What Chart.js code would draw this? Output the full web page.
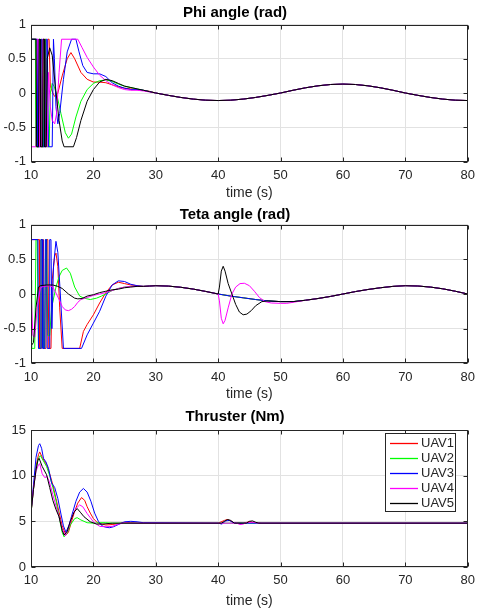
<!DOCTYPE html>
<html>
<head>
<meta charset="utf-8">
<script src="https://cdn.jsdelivr.net/npm/chart.js@4"></script>
<style>
    body { margin: 0; background: #fff; }
    #wrap { position: relative; width: 481px; height: 614px; }
    canvas { position: absolute; left: 0; }
</style>
</head>
<body>
<div id="wrap">
    <canvas id="phiChart" width="481" height="202" style="top:0px"></canvas>
    <canvas id="tetaChart" width="481" height="202" style="top:201px"></canvas>
    <canvas id="thrustChart" width="481" height="211" style="top:403px"></canvas>
</div>
<script>
// Подписи и цвета
const uavNames = ['UAV1', 'UAV2', 'UAV3', 'UAV4', 'UAV5'];
const uavColors = ['#ff0000', '#00ff00', '#0000ff', '#ff00ff', '#000000'];

// ---- Phi angle (rad) ----
const phiT1 = [10, 10.9, 11.0, 11.3, 11.45, 11.6, 11.75, 12.0, 12.15, 12.3, 12.45, 12.7, 12.9, 13.1, 13.5, 13.8, 14.3, 15.0, 15.8, 16.4, 17.0, 18.0, 19.0, 20.0, 21.0, 22.0, 23.0, 24.0, 25.0, 26.0, 27.0, 28.0, 29.0];
const phiY1 = [0.785, 0.785, -0.785, -0.785, 0.785, 0.785, -0.785, -0.785, 0.785, 0.785, -0.5, 0.785, 0.785, 0.1, 0.0, -0.05, 0.0, 0.25, 0.5, 0.59, 0.5, 0.3, 0.2, 0.16, 0.16, 0.15, 0.12, 0.09, 0.07, 0.06, 0.05, 0.04, 0.025];
const phiT2 = [10, 10.7, 10.8, 11.2, 11.35, 11.5, 11.65, 12.0, 12.2, 12.35, 12.55, 12.9, 13.1, 13.4, 13.7, 14.2, 14.8, 15.5, 16.0, 16.5, 17.2, 18.0, 19.0, 20.0, 21.0, 22.0, 23.0, 24.0, 25.0, 26.0, 27.0, 28.0, 29.0];
const phiY2 = [0.785, 0.785, -0.785, -0.785, 0.785, 0.785, -0.785, -0.785, 0.785, 0.785, -0.785, -0.785, 0.0, 0.14, 0.1, -0.05, -0.3, -0.58, -0.66, -0.6, -0.35, -0.12, 0.05, 0.14, 0.18, 0.19, 0.17, 0.13, 0.1, 0.08, 0.06, 0.04, 0.02];
const phiT3 = [10, 11.0, 11.1, 11.5, 11.65, 11.8, 11.95, 12.3, 12.45, 12.6, 12.8, 13.4, 13.6, 13.75, 14.0, 14.3, 14.6, 15.2, 15.8, 16.5, 17.2, 17.7, 18.3, 19.0, 20.0, 21.0, 22.0, 23.0, 24.0, 25.0, 26.0, 27.0, 28.0, 29.0];
const phiY3 = [0.785, 0.785, -0.785, -0.785, 0.785, 0.785, -0.785, -0.785, 0.785, 0.785, -0.785, -0.785, 0.785, 0.5, -0.2, -0.45, -0.3, 0.2, 0.6, 0.785, 0.785, 0.6, 0.4, 0.3, 0.28, 0.28, 0.24, 0.15, 0.1, 0.07, 0.05, 0.05, 0.04, 0.02];
const phiT4 = [10, 10.05, 10.8, 11.0, 11.2, 11.4, 11.7, 11.9, 12.1, 12.3, 12.6, 12.8, 13.1, 13.4, 13.8, 14.1, 14.5, 14.9, 17.5, 18.2, 19.0, 20.0, 21.0, 22.0, 23.0, 24.0, 25.0, 26.0, 27.0, 28.0, 29.0];
const phiY4 = [0.0, -0.785, -0.785, 0.785, 0.785, -0.785, -0.785, 0.785, 0.785, -0.785, -0.785, 0.3, -0.2, -0.4, -0.45, -0.3, 0.3, 0.785, 0.785, 0.66, 0.52, 0.38, 0.26, 0.18, 0.12, 0.08, 0.05, 0.04, 0.04, 0.03, 0.015];
const phiT5 = [10, 10.8, 10.9, 11.2, 11.3, 11.45, 11.55, 11.85, 11.95, 12.1, 12.2, 12.45, 12.6, 13.0, 13.4, 13.9, 14.5, 15.0, 15.3, 16.8, 17.3, 18.0, 19.0, 20.0, 21.0, 22.0, 23.0, 24.0, 25.0, 26.0, 27.0, 28.0, 29.0];
const phiY5 = [0.785, 0.785, -0.785, -0.785, 0.785, 0.785, -0.785, -0.785, 0.785, 0.785, -0.785, -0.785, 0.5, 0.66, 0.55, 0.1, -0.4, -0.7, -0.785, -0.785, -0.65, -0.4, -0.12, 0.05, 0.16, 0.2, 0.18, 0.14, 0.1, 0.08, 0.06, 0.04, 0.02];
// общий хвост после 30 с
const phiTailT = [30, 32, 34, 36, 38, 40, 42, 44, 46, 48, 50, 52, 54, 56, 58, 60, 62, 64, 66, 68, 70, 72, 74, 76, 78, 80];
const phiTailY = [0.0, -0.034, -0.065, -0.089, -0.105, -0.11, -0.105, -0.089, -0.065, -0.034, 0.0, 0.04, 0.076, 0.105, 0.124, 0.13, 0.124, 0.105, 0.076, 0.04, 0.0, -0.034, -0.065, -0.089, -0.105, -0.11];

// ---- Teta angle (rad) ----
const tetaT1 = [10, 11.3, 11.4, 11.7, 11.8, 12.0, 12.1, 12.4, 12.5, 12.7, 12.85, 13.2, 13.4, 13.8, 14.0, 14.3, 14.6, 15.0, 17.8, 18.4, 19.0, 20.0, 21.0, 22.0, 23.0, 24.0, 25.0, 26.0, 27.0, 28.0, 29.0];
const tetaY1 = [0.785, 0.785, -0.785, -0.785, 0.785, 0.785, -0.785, -0.785, 0.785, 0.785, -0.785, -0.785, 0.2, 0.55, 0.59, 0.4, -0.2, -0.785, -0.785, -0.54, -0.44, -0.3, -0.13, 0.02, 0.13, 0.17, 0.15, 0.13, 0.12, 0.11, 0.115];
const tetaT2 = [10, 10.1, 10.6, 10.8, 11.0, 11.2, 11.5, 11.6, 11.8, 12.0, 12.2, 12.35, 12.5, 12.7, 13.0, 13.3, 14.0, 14.5, 15.0, 15.7, 16.3, 17.0, 17.8, 18.5, 19.5, 20.5, 21.3, 22.0, 23.0, 24.0, 25.0, 26.0, 27.0, 28.0, 29.0];
const tetaY2 = [0.2, -0.785, -0.785, 0.785, 0.785, -0.785, -0.785, 0.785, 0.785, -0.785, -0.785, 0.785, 0.785, -0.6, -0.6, -0.2, 0.1, 0.25, 0.34, 0.375, 0.3, 0.1, -0.03, -0.06, -0.08, -0.06, -0.03, 0.0, 0.05, 0.08, 0.1, 0.11, 0.11, 0.11, 0.115];
const tetaT3 = [10, 11.1, 11.2, 11.5, 11.6, 11.8, 11.9, 12.2, 12.3, 12.5, 12.6, 12.9, 13.0, 13.2, 13.35, 13.6, 14.0, 14.3, 14.7, 15.2, 18.1, 19.0, 20.0, 21.0, 22.0, 23.0, 24.0, 25.0, 26.0, 27.0, 28.0, 29.0];
const tetaY3 = [0.785, 0.785, -0.785, -0.785, 0.785, 0.785, -0.785, -0.785, 0.785, 0.785, -0.785, -0.785, 0.785, 0.785, -0.5, 0.4, 0.76, 0.6, 0.0, -0.785, -0.785, -0.59, -0.42, -0.25, -0.03, 0.13, 0.19, 0.18, 0.14, 0.12, 0.11, 0.115];
const tetaT4 = [10, 10.3, 10.6, 11.0, 11.5, 12.0, 13.0, 13.5, 14.0, 14.5, 15.0, 15.5, 16.0, 16.5, 17.0, 17.5, 18.0, 19.0, 20.0, 21.0, 22.0, 23.0, 24.0, 25.0, 26.0, 27.0, 28.0, 29.0];
const tetaY4 = [0.1, -0.6, -0.62, -0.2, 0.09, 0.11, 0.12, 0.1, 0.015, -0.08, -0.18, -0.23, -0.24, -0.22, -0.18, -0.12, -0.08, -0.05, -0.02, 0.0, 0.02, 0.05, 0.08, 0.1, 0.11, 0.11, 0.11, 0.115];
const tetaT5 = [10, 10.4, 10.8, 11.2, 11.5, 12.5, 13.5, 14.3, 15.0, 16.0, 17.0, 17.5, 18.2, 19.0, 20.0, 21.0, 22.0, 23.0, 24.0, 25.0, 26.0, 27.0, 28.0, 29.0];
const tetaY5 = [-0.75, -0.7, -0.2, 0.1, 0.12, 0.13, 0.13, 0.11, 0.08, 0.0, -0.06, -0.07, -0.065, -0.03, -0.01, 0.02, 0.04, 0.06, 0.07, 0.09, 0.1, 0.11, 0.11, 0.115];
// участок 30..40 с
const tetaMidT = [30, 32, 34, 36, 38, 40];
const tetaMidY = [0.12, 0.114, 0.097, 0.071, 0.037, 0.0];
// спокойный участок 42..52 с (UAV1-3)
const tetaBaseT = [42, 44, 46, 48, 50, 52];
const tetaBaseY = [-0.03, -0.055, -0.08, -0.1, -0.11, -0.11];
// возмущение около 41 с
const tetaKickT4 = [40.2, 40.5, 40.8, 41.1, 41.6, 42.2, 42.8, 43.5, 44.2, 45.0, 45.8, 46.6, 47.5, 48.5, 50.0, 51.0, 52.0];
const tetaKickY4 = [-0.1, -0.35, -0.43, -0.38, -0.2, 0.0, 0.1, 0.15, 0.155, 0.12, 0.04, -0.05, -0.11, -0.13, -0.135, -0.135, -0.12];
const tetaKickT5 = [40.2, 40.5, 40.8, 41.1, 41.6, 42.2, 42.8, 43.4, 44.0, 44.6, 45.3, 46.0, 47.0, 48.0, 50.0, 52.0];
const tetaKickY5 = [0.1, 0.33, 0.4, 0.33, 0.15, 0.0, -0.15, -0.26, -0.3, -0.29, -0.24, -0.17, -0.11, -0.1, -0.11, -0.11];
// хвост 54..80 с
const tetaEndT = [54, 56, 58, 60, 62, 64, 66, 68, 70, 72, 74, 76, 78, 80];
const tetaEndY = [-0.09, -0.065, -0.035, 0.0, 0.035, 0.065, 0.09, 0.11, 0.12, 0.115, 0.1, 0.075, 0.04, 0.0];

// ---- Thruster (Nm) ----
const thrT1 = [10, 10.4, 10.8, 11.2, 11.4, 11.8, 12.5, 13.0, 13.5, 14.0, 14.5, 15.0, 15.6, 16.0, 16.5, 17.0, 17.5, 18.1, 18.6, 19.0, 19.5, 20.0, 20.5, 21.0, 22.0, 23.0, 24.0, 25.0, 26.0, 27.0, 40.0, 41.0, 41.5, 42.0, 42.5, 44.0, 45.0, 46.0, 47.0, 80.0];
const thrY1 = [5.9, 8.6, 11.0, 12.3, 12.6, 12.0, 11.2, 10.2, 9.0, 7.5, 6.0, 4.5, 3.5, 3.8, 5.0, 6.1, 7.0, 7.6, 7.3, 6.6, 5.9, 5.3, 4.95, 4.75, 4.6, 4.65, 4.75, 4.85, 4.85, 4.8, 4.8, 5.1, 5.2, 5.05, 4.85, 4.8, 4.95, 4.85, 4.8, 4.8];
const thrT2 = [10, 10.4, 10.8, 11.2, 11.5, 12.0, 12.5, 13.0, 13.5, 14.0, 14.5, 15.0, 15.3, 15.8, 16.3, 17.0, 17.4, 18.0, 19.0, 20.0, 21.0, 22.0, 23.0, 80.0];
const thrY2 = [5.9, 8.5, 10.8, 11.9, 12.2, 11.6, 11.0, 10.0, 8.7, 7.3, 5.5, 3.8, 3.3, 3.7, 4.6, 5.3, 5.4, 5.15, 4.85, 4.8, 4.85, 4.85, 4.8, 4.8];
const thrT3 = [10, 10.4, 10.8, 11.2, 11.4, 11.7, 12.0, 12.4, 12.8, 13.3, 13.8, 14.3, 14.8, 15.2, 15.6, 16.1, 16.6, 17.2, 17.8, 18.4, 19.0, 19.6, 20.2, 20.8, 21.4, 22.0, 22.6, 23.2, 24.0, 25.0, 26.0, 27.0, 28.0, 40.0, 40.6, 41.2, 41.8, 42.4, 43.0, 80.0];
const thrY3 = [6.0, 9.0, 12.0, 13.3, 13.5, 13.0, 11.9, 11.5, 10.8, 9.2, 8.7, 7.5, 5.8, 4.5, 3.8, 4.6, 5.8, 7.2, 8.2, 8.6, 8.2, 7.2, 5.9, 5.0, 4.5, 4.35, 4.3, 4.4, 4.65, 4.95, 5.0, 4.95, 4.85, 4.8, 4.7, 5.05, 5.1, 4.85, 4.8, 4.8];
const thrT4 = [10, 10.4, 10.8, 11.2, 11.4, 11.8, 12.2, 12.6, 13.0, 13.5, 14.0, 14.5, 15.0, 15.5, 16.0, 16.5, 17.2, 17.8, 18.3, 19.0, 19.5, 20.0, 21.0, 22.0, 23.0, 24.0, 25.0, 26.0, 43.0, 43.5, 44.0, 44.5, 45.5, 46.5, 80.0];
const thrY4 = [6.0, 8.6, 10.5, 11.2, 11.3, 10.2, 9.8, 9.9, 9.2, 7.9, 6.7, 5.5, 4.2, 3.4, 4.2, 5.4, 6.4, 6.8, 6.6, 5.85, 5.4, 4.95, 4.45, 4.4, 4.45, 4.7, 4.85, 4.8, 4.8, 4.65, 4.7, 4.85, 4.9, 4.8, 4.8];
const thrT5 = [10, 10.4, 10.8, 11.1, 11.3, 11.8, 12.5, 13.0, 13.5, 14.0, 14.5, 15.0, 15.3, 15.8, 16.3, 16.9, 17.4, 17.9, 18.5, 19.5, 20.5, 21.5, 23.0, 40.5, 41.0, 41.5, 42.0, 42.6, 44.5, 45.0, 45.5, 46.0, 46.5, 80.0];
const thrY5 = [5.9, 8.5, 10.6, 11.7, 11.9, 11.0, 10.1, 8.7, 7.3, 6.3, 5.5, 4.0, 3.5, 3.9, 5.0, 6.0, 6.4, 6.0, 5.5, 4.95, 4.7, 4.7, 4.8, 4.8, 5.0, 5.2, 5.1, 4.8, 4.8, 5.0, 5.05, 4.9, 4.8, 4.8];

// Шрифты
const FONT = '"Liberation Sans", Arial, Helvetica, sans-serif';
const AXIS_COLOR = '#262626';
const GRID_COLOR = '#e2e2e2';

function toPoints(times, values) {
    return times.map((t, i) => ({ x: t, y: values[i] }));
}

function makeDatasets(series) {
    return series.map((pts, i) => ({
        label: uavNames[i],
        data: pts,
        borderColor: uavColors[i],
        borderWidth: 1,
        pointRadius: 0,
        tension: 0,
        fill: false,
        order: 5 - i   // UAV5 рисуется поверх
    }));
}

// Рамка осей и короткие риски внутрь, как в MATLAB
const framePlugin = {
    id: 'frame',
    afterDraw(chart) {
        const { ctx, chartArea: a, scales } = chart;
        const L = Math.round(a.left) + 0.5, R = Math.round(a.right) - 0.5;
        const T = Math.round(a.top) + 0.5, B = Math.round(a.bottom) - 0.5;
        ctx.save();
        ctx.strokeStyle = AXIS_COLOR;
        ctx.lineWidth = 1;
        ctx.strokeRect(L, T, R - L, B - T);
        ctx.beginPath();
        scales.x.ticks.forEach(t => {
            const px = Math.round(scales.x.getPixelForValue(t.value)) + 0.5;
            ctx.moveTo(px, B); ctx.lineTo(px, B - 4);
            ctx.moveTo(px, T); ctx.lineTo(px, T + 4);
        });
        scales.y.ticks.forEach(t => {
            const py = Math.round(scales.y.getPixelForValue(t.value)) + 0.5;
            ctx.moveTo(L, py); ctx.lineTo(L + 4, py);
            ctx.moveTo(R, py); ctx.lineTo(R - 4, py);
        });
        ctx.stroke();
        ctx.restore();
    }
};

// Легенда в правом верхнем углу области графика
const legendPlugin = {
    id: 'boxLegend',
    afterDraw(chart) {
        const { ctx, chartArea: a } = chart;
        const x0 = Math.round(a.right) - 83, y0 = Math.round(a.top) + 3;
        const w = 70, h = 78;
        ctx.save();
        ctx.fillStyle = '#ffffff';
        ctx.fillRect(x0, y0, w, h);
        ctx.strokeStyle = AXIS_COLOR;
        ctx.lineWidth = 1;
        ctx.strokeRect(x0 + 0.5, y0 + 0.5, w, h);
        ctx.font = '13px ' + FONT;
        ctx.textBaseline = 'middle';
        chart.data.datasets.forEach((ds, i) => {
            const y = y0 + 10.5 + i * 15;
            ctx.strokeStyle = ds.borderColor;
            ctx.lineWidth = 1.3;
            ctx.beginPath();
            ctx.moveTo(x0 + 5, y);
            ctx.lineTo(x0 + 33, y);
            ctx.stroke();
            ctx.fillStyle = AXIS_COLOR;
            ctx.fillText(ds.label, x0 + 36, y);
        });
        ctx.restore();
    }
};

function makeChart(id, title, series, yMin, yMax, yStep, lay, withLegend) {
    const ctx = document.getElementById(id).getContext('2d');
    return new Chart(ctx, {
        type: 'line',
        data: { datasets: makeDatasets(series) },
        options: {
            responsive: false,
            animation: false,
            layout: { padding: { left: 0, right: 11, top: 0, bottom: lay.bottom } },
            plugins: {
                legend: { display: false },
                tooltip: { enabled: false },
                title: {
                    display: true,
                    text: title,
                    color: '#000000',
                    font: { family: FONT, size: 15, weight: 'bold', lineHeight: 1 },
                    padding: { top: lay.titleTop, bottom: lay.titleBottom }
                }
            },
            scales: {
                x: {
                    type: 'linear',
                    min: 10,
                    max: 80,
                    ticks: { stepSize: 10, color: AXIS_COLOR, font: { family: FONT, size: 13 }, padding: 6, maxRotation: 0 },
                    grid: { color: GRID_COLOR, drawTicks: false },
                    border: { display: false },
                    title: { display: true, text: 'time (s)', color: AXIS_COLOR, font: { family: FONT, size: 14 }, padding: 0 },
                    afterFit: s => { s.height = lay.xHeight; }
                },
                y: {
                    min: yMin,
                    max: yMax,
                    ticks: {
                        stepSize: yStep,
                        color: AXIS_COLOR,
                        font: { family: FONT, size: 13 },
                        padding: 5,
                        callback: v => String(v)
                    },
                    grid: { color: GRID_COLOR, drawTicks: false },
                    border: { display: false },
                    afterFit: s => { s.width = 31; }
                }
            }
        },
        plugins: withLegend ? [framePlugin, legendPlugin] : [framePlugin]
    });
}

// Phi
const phiSeries = [
    toPoints(phiT1.concat(phiTailT), phiY1.concat(phiTailY)),
    toPoints(phiT2.concat(phiTailT), phiY2.concat(phiTailY)),
    toPoints(phiT3.concat(phiTailT), phiY3.concat(phiTailY)),
    toPoints(phiT4.concat(phiTailT), phiY4.concat(phiTailY)),
    toPoints(phiT5.concat(phiTailT), phiY5.concat(phiTailY))
];
makeChart('phiChart', 'Phi angle (rad)', phiSeries, -1, 1, 0.5,
    { titleTop: 5, titleBottom: 4.5, xHeight: 40.5, bottom: 0 }, false);

// Teta
const tetaSeries = [
    toPoints(tetaT1.concat(tetaMidT, tetaBaseT, tetaEndT), tetaY1.concat(tetaMidY, tetaBaseY, tetaEndY)),
    toPoints(tetaT2.concat(tetaMidT, tetaBaseT, tetaEndT), tetaY2.concat(tetaMidY, tetaBaseY, tetaEndY)),
    toPoints(tetaT3.concat(tetaMidT, tetaBaseT, tetaEndT), tetaY3.concat(tetaMidY, tetaBaseY, tetaEndY)),
    toPoints(tetaT4.concat(tetaMidT, tetaKickT4, tetaEndT), tetaY4.concat(tetaMidY, tetaKickY4, tetaEndY)),
    toPoints(tetaT5.concat(tetaMidT, tetaKickT5, tetaEndT), tetaY5.concat(tetaMidY, tetaKickY5, tetaEndY))
];
makeChart('tetaChart', 'Teta angle (rad)', tetaSeries, -1, 1, 0.5,
    { titleTop: 6.5, titleBottom: 2.2, xHeight: 39.7, bottom: 0 }, false);

// Thruster
const thrSeries = [
    toPoints(thrT1, thrY1),
    toPoints(thrT2, thrY2),
    toPoints(thrT3, thrY3),
    toPoints(thrT4, thrY4),
    toPoints(thrT5, thrY5)
];
makeChart('thrustChart', 'Thruster (Nm)', thrSeries, 0, 15, 5,
    { titleTop: 6.8, titleBottom: 5.2, xHeight: 43, bottom: 4 }, true);
</script>
</body>
</html>
